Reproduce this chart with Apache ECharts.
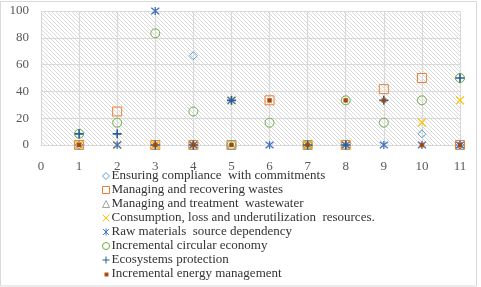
<!DOCTYPE html>
<html><head><meta charset="utf-8">
<script src="https://cdn.jsdelivr.net/npm/echarts@6/dist/echarts.min.js"></script>
<style>html,body{margin:0;padding:0;background:#fff}#c{width:481px;height:287px}</style>
</head><body><div id="c"></div>
<script>
const xs = [1,2,3,4,5,6,7,8,9,10,11];
const seriesNames = [
  'Ensuring compliance  with commitments',
  'Managing and recovering wastes',
  'Managing and treatment  wastewater',
  'Consumption, loss and underutilization  resources.',
  'Raw materials  source dependency',
  'Incremental circular economy',
  'Ecosystems protection',
  'Incremental energy management'
];
const ensuring    = [0, null, null, 66.67, null, null, null, null, null, 8.33, 0];
const wastes      = [0, 25, 0, 0, 0, 33.33, 0, 0, 41.67, 50, 0];
const wastewater  = [0, null, 0, 0, 0, null, 0, 0, null, null, 0];
const consumption = [0, 0, 0, 0, 33.33, null, 0, 0, null, 16.67, 33.33];
const rawMaterials= [null, 0, 100, 0, 33.33, 0, null, 0, 0, 0, 0];
const circular    = [8.33, 16.67, 83.33, 25, 0, 16.67, 0, 33.33, 16.67, 33.33, 50];
const ecosystems  = [8.33, 8.33, 0, 0, 33.33, null, 0, 0, 33.33, null, 50];
const energy      = [0, null, 0, 0, 0, 33.33, 0, 33.33, 33.33, 0, 0];
const xTicks = [0,1,2,3,4,5,6,7,8,9,10,11];
const yTicks = [0,20,40,60,80,100];

const values = [ensuring, wastes, wastewater, consumption, rawMaterials, circular, ecosystems, energy];
const styles = [
  {symbol:'diamond', size:8, color:'transparent', border:'#5B9BD5', bw:1},
  {symbol:'rect', size:9, color:'transparent', border:'#ED7D31', bw:1},
  {symbol:'triangle', size:8, color:'transparent', border:'#A5A5A5', bw:1},
  {symbol:'path://M0,0L10,10M10,0L0,10', size:8, color:'transparent', border:'#FFC000', bw:1.3},
  {symbol:'path://M0,0L10,10M10,0L0,10M5,-1L5,11', size:8, color:'transparent', border:'#4472C4', bw:1.3},
  {symbol:'circle', size:9, color:'transparent', border:'#70AD47', bw:1},
  {symbol:'path://M5,0L5,10M0,5L10,5', size:9, color:'transparent', border:'#255E91', bw:1.6},
  {symbol:'rect', size:4, color:'#9E480E', border:'#C55A11', bw:0.5}
];

const pc = document.createElement('canvas');
pc.width = 4; pc.height = 4;
const pctx = pc.getContext('2d');
pctx.fillStyle = '#fff'; pctx.fillRect(0,0,4,4);
pctx.fillStyle = '#d9d9d9';
for (let i=0;i<4;i++) pctx.fillRect(i,i,1,1);

// small legend icon for energy management (marker smaller than others)
const ec = document.createElement('canvas');
ec.width = 7; ec.height = 7;
const ectx = ec.getContext('2d');
ectx.fillStyle = '#C55A11'; ectx.fillRect(2,2,4,4);
ectx.fillStyle = '#9E480E'; ectx.fillRect(2.5,2.5,3,3);

const font = 'Liberation Serif';
const chart = echarts.init(document.getElementById('c'), null, {renderer:'canvas'});
chart.setOption({
  animation:false,
  backgroundColor:'#fff',
  graphic:[{type:'rect', shape:{x:0.5,y:1.5,width:476,height:284.5}, style:{fill:'none', stroke:'#d9d9d9', lineWidth:1}, silent:true, z:-10}],
  grid:{left:41, right:21, top:11, bottom:142, show:true, backgroundColor:{image:pc, repeat:'repeat'}, borderWidth:0},
  xAxis:{type:'value', min:0, max:11, interval:1,
    axisLine:{show:false}, axisTick:{show:false},
    axisLabel:{margin:15, fontFamily:font, fontSize:13, color:'#595959', formatter:v=>xTicks.includes(v)?String(v):''},
    splitLine:{show:true, lineStyle:{color:'#d9d9d9', width:1.2}}},
  yAxis:{type:'value', min:0, max:100, interval:20,
    axisLine:{show:false}, axisTick:{show:false},
    axisLabel:{margin:12, fontFamily:font, fontSize:13, color:'#595959', formatter:v=>yTicks.includes(v)?String(v):''},
    splitLine:{show:true, lineStyle:{color:'#d9d9d9', width:1.2}}},
  legend:{orient:'vertical', left:102, top:169, padding:0, itemGap:0, itemWidth:7, itemHeight:7,
    itemStyle:{borderWidth:1},
    textStyle:{fontFamily:font, fontSize:13, color:'#333', lineHeight:14, padding:[0,0,0,-3]},
    data:seriesNames.map((n,i)=> i===7 ? {name:n, icon:'image://'+ec.toDataURL()} : {name:n})},
  series: seriesNames.map((n,i)=>({
    name:n, type:'scatter',
    symbol:styles[i].symbol, symbolSize:styles[i].size,
    itemStyle:{color:styles[i].color, borderColor:styles[i].border, borderWidth:styles[i].bw, opacity:1},
    data: xs.map((x,j)=> values[i][j]==null ? null : [x, values[i][j]])
      .filter(d=>d!==null)
  }))
});
</script></body></html>
